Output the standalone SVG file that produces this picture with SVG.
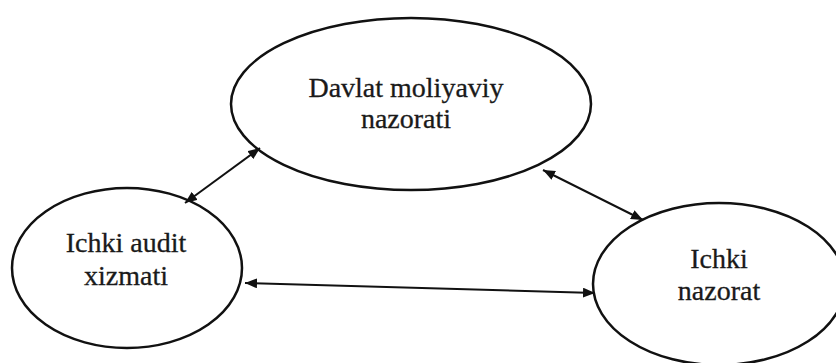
<svg xmlns="http://www.w3.org/2000/svg" width="836" height="363" viewBox="0 0 836 363">
<style>
.node ellipse{fill:#fff;stroke:#111;stroke-width:2.5}
.node text{font-family:"Liberation Serif","Times New Roman",serif;font-size:28px;fill:#1a1a1a;stroke:#1a1a1a;stroke-width:0.3;text-anchor:middle}
.edge{stroke:#111;stroke-width:2;fill:none;marker-start:url(#ah);marker-end:url(#ah)}
</style>
<defs>
<marker id="ah" viewBox="0 0 12 10" refX="12" refY="5" markerWidth="12" markerHeight="10" markerUnits="userSpaceOnUse" orient="auto-start-reverse">
<path d="M0,0 L12,5 L0,10 z" fill="#111"/>
</marker>
</defs>
<rect width="836" height="363" fill="#fff"/>
<g id="n-davlat" class="node">
<ellipse cx="411" cy="104" rx="180" ry="86"/>
<text x="406" y="97">Davlat moliyaviy</text>
<text x="406" y="128">nazorati</text>
</g>
<g id="n-audit" class="node">
<ellipse cx="127" cy="268" rx="115" ry="80"/>
<text x="126" y="252">Ichki audit</text>
<text x="126" y="285">xizmati</text>
</g>
<g id="n-nazorat" class="node">
<ellipse cx="719" cy="284" rx="126" ry="81"/>
<text x="719" y="268">Ichki</text>
<text x="719" y="300">nazorat</text>
</g>
<g id="connectors">
<line class="edge" x1="185" y1="203" x2="260" y2="148"/>
<line class="edge" x1="543" y1="170" x2="643" y2="220"/>
<line class="edge" x1="245" y1="283" x2="595" y2="293"/>
</g>
</svg>
